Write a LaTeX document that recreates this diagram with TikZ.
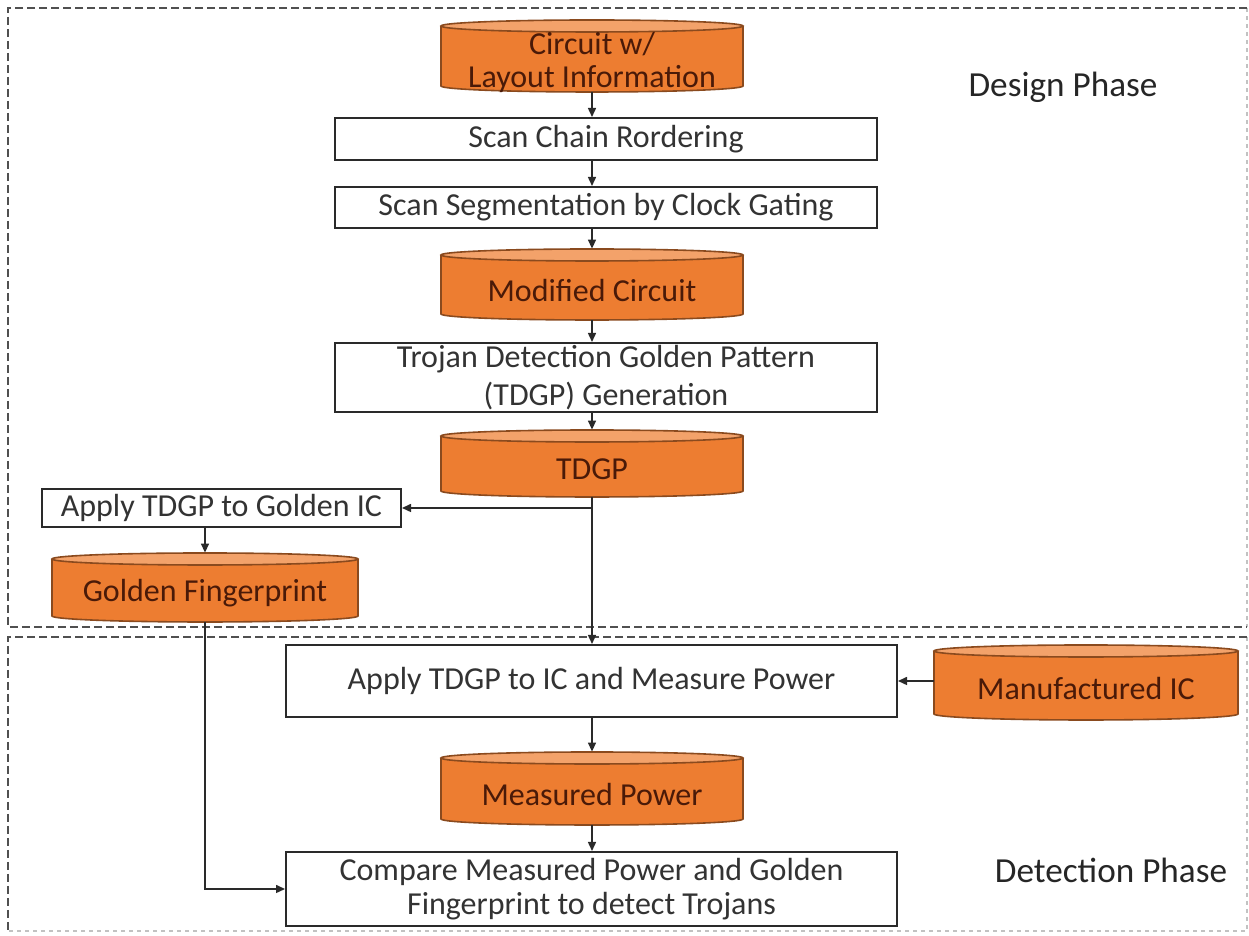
\documentclass[tikz,border=0pt]{standalone}
\usepackage{fontspec}
\setmainfont{Carlito}
\usetikzlibrary{arrows.meta}
\definecolor{orbody}{HTML}{ED7D31}
\definecolor{ortop}{HTML}{F3A26A}
\definecolor{oredge}{HTML}{8A4A1E}
\definecolor{ortext}{HTML}{4A1A08}
\definecolor{boxtext}{HTML}{333333}
\definecolor{linecol}{HTML}{2A2A2A}
\definecolor{framecol}{HTML}{505050}
\tikzset{
  x=0.5pt, y=0.5pt,
  procbox/.style={draw=linecol, line width=1pt, fill=white, inner sep=0pt, text=boxtext,
    font=\fontsize{16}{19}\selectfont, align=center},
  drumbody/.style={fill=orbody},
  drumedge/.style={draw=oredge, line width=0.8pt},
  drumtop/.style={fill=ortop, draw=oredge, line width=0.8pt},
  drumanchor/.style={draw=none, inner sep=0pt},
  drumlabel/.style={text=ortext, font=\fontsize{16}{16.5}\selectfont, align=center, inner sep=0pt},
  flow/.style={draw=linecol, line width=0.75pt, -{Triangle[length=4.5pt,width=4pt]}},
  plain/.style={draw=linecol, line width=0.75pt},
  frame/.style={draw=framecol, line width=1pt, dash pattern=on 4pt off 2pt},
  faintframe/.style={draw=framecol!35, line width=0.8pt, dash pattern=on 2pt off 2pt},
  phase/.style={text=black!85, font=\fontsize{17.6}{20}\selectfont, inner sep=0pt},
}
% #1 name, #2 cx, #3 cy, #4 rx, #5 half height, #6 text
\newcommand\drum[6]{%
  \path[drumbody] (#2-#4,#3+#5-6) -- (#2-#4,#3-#5+6) arc[start angle=180,end angle=360,x radius=#4,y radius=6] -- (#2+#4,#3+#5-6) -- cycle;
  \path[drumedge] (#2-#4,#3+#5-6) -- (#2-#4,#3-#5+6) arc[start angle=180,end angle=360,x radius=#4,y radius=6] -- (#2+#4,#3+#5-6);
  \path[drumtop] (#2,#3+#5-6) ellipse[x radius=#4,y radius=6];
  \node[drumanchor, minimum width=#4pt, minimum height=#5pt] (#1) at (#2,#3) {};
  \node[drumlabel] (#1-t) at (#2,#3-6) {#6};
}
\begin{document}
\begin{tikzpicture}
\useasboundingbox (0,0) rectangle (1249,936);
% frames
\draw[faintframe] (1247,928) -- (1247,309);
\draw[faintframe] (1247,299) -- (1247,5) -- (8,5);
\draw[frame] (1247,928) -- (8,928) -- (8,309) -- (1247,309);
\draw[frame] (1247,299) -- (8,299) -- (8,5);
% phase labels
\node[phase] (dphase) at (1063,849) {Design Phase};
\node[phase] (tphase) at (1111,66) {Detection Phase};
% design phase
\drum{circ}{592}{880}{151}{36}{Circuit w/\\Layout Information}
\node[procbox, minimum width=271pt, minimum height=21pt] (scan1) at (606,797) {Scan Chain Rordering};
\node[procbox, minimum width=271pt, minimum height=20.5pt] (scan2) at (606,728.5) {Scan Segmentation by Clock Gating};
\drum{mod}{592}{651.5}{151}{35.5}{Modified Circuit}
\node[procbox, minimum width=271pt, minimum height=34.5pt] (gen) at (606,558.5) {Trojan Detection Golden Pattern\\(TDGP) Generation};
\drum{tdgp}{592}{472.5}{151}{33.5}{TDGP}
\node[procbox, minimum width=179.5pt, minimum height=19pt] (applyg) at (221.5,428) {Apply TDGP to Golden IC};
\drum{gf}{205}{348.5}{153}{34.5}{Golden Fingerprint}
% detection phase
\node[procbox, minimum width=305.5pt, minimum height=36pt] (applyic) at (591.5,255) {Apply TDGP to IC and Measure Power};
\drum{manuf}{1086}{253.5}{152}{37.5}{Manufactured IC}
\drum{meas}{592}{147.5}{151}{36.5}{Measured Power}
\node[procbox, minimum width=305.5pt, minimum height=37pt, font=\fontsize{16}{17}\selectfont] (cmp) at (591.5,47) {Compare Measured Power and Golden\\Fingerprint to detect Trojans};
% connectors
\draw[flow] (circ.south) -- (circ.south |- scan1.north);
\draw[flow] (scan1.south -| circ.south) -- (circ.south |- scan2.north);
\draw[flow] (scan2.south -| mod.north) -- (mod.north);
\draw[flow] (mod.south) -- (mod.south |- gen.north);
\draw[flow] (gen.south -| tdgp.north) -- (tdgp.north);
\coordinate (br) at (tdgp.south |- applyg.east);
\draw[plain] (tdgp.south) -- (br);
\draw[flow] (br) -- (applyg.east);
\draw[flow] (br) -- (tdgp.south |- applyic.north);
\draw[flow] (applyg.south -| gf.north) -- (gf.north);
\draw[flow] (applyic.east -| manuf.west) -- (applyic.east);
\draw[flow] (applyic.south -| meas.north) -- (meas.north);
\draw[flow] (meas.south) -- (meas.south |- cmp.north);
\draw[flow] (gf.south) -- (gf.south |- cmp.west) -- (cmp.west);
\end{tikzpicture}
\end{document}
